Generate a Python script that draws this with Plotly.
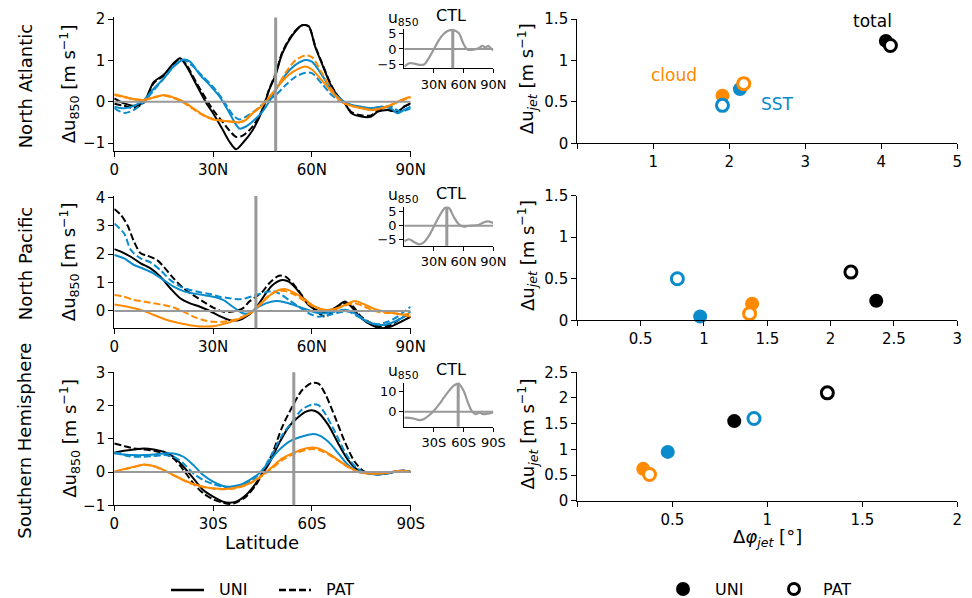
import plotly.graph_objects as go

W, H = 972, 598
FONT = "DejaVu Sans"
BLACK = "#000000"
BLUE = "#0a8bcb"
ORANGE = "#ff8a00"
GREY = "#999999"

REGIONS = ["North Atlantic", "North Pacific", "Southern Hemisphere"]
HEMI = ["N", "N", "S"]
JET_LAT = [49.0, 43.0, 54.5]          # latitude of the CTL jet

# ---------------- North Atlantic: zonal-mean u850 response ----------------
NA_TOT_UNI_LAT = [0, 3, 6, 9, 12, 15, 18, 20, 22, 25, 28, 30, 33, 35, 37, 39, 42, 45, 47, 49, 51, 54, 57, 59, 61, 63, 66, 68, 70, 72, 75, 78, 80, 83, 86, 88, 90]
NA_TOT_UNI = [0.08, -0.04, -0.1, 0.0, 0.48, 0.65, 0.93, 1.05, 0.85, 0.4, -0.04, -0.28, -0.69, -0.97, -1.15, -1.0, -0.69, -0.2, 0.28, 0.65, 1.17, 1.6, 1.85, 1.83, 1.33, 0.93, 0.36, 0.12, -0.04, -0.28, -0.36, -0.36, -0.24, -0.2, -0.24, -0.12, -0.04]
NA_TOT_PAT_LAT = NA_TOT_UNI_LAT
NA_TOT_PAT = [-0.05, -0.1, -0.15, -0.02, 0.45, 0.63, 0.9, 1.03, 0.88, 0.45, 0.05, -0.2, -0.5, -0.7, -0.85, -0.82, -0.6, -0.18, 0.3, 0.68, 1.2, 1.62, 1.85, 1.82, 1.35, 0.95, 0.38, 0.12, -0.04, -0.25, -0.33, -0.33, -0.22, -0.2, -0.25, -0.12, -0.05]
NA_SST_UNI_LAT = [0, 3, 6, 9, 12, 15, 18, 21, 23, 26, 29, 32, 35, 37, 38, 40, 42, 45, 47, 49, 52, 55, 58, 60, 63, 66, 69, 72, 75, 78, 81, 84, 86, 88, 90]
NA_SST_UNI = [-0.12, -0.16, -0.1, 0.04, 0.32, 0.56, 0.85, 1.02, 0.97, 0.65, 0.4, 0.12, -0.28, -0.56, -0.65, -0.6, -0.48, -0.24, 0.0, 0.28, 0.65, 0.89, 1.01, 0.97, 0.65, 0.28, 0.04, -0.08, -0.12, -0.16, -0.12, -0.16, -0.28, -0.2, -0.12]
NA_SST_PAT_LAT = [0, 3, 6, 9, 12, 15, 18, 21, 24, 27, 30, 33, 36, 38, 40, 43, 46, 49, 52, 55, 58, 60, 63, 66, 69, 72, 75, 78, 81, 84, 87, 90]
NA_SST_PAT = [-0.16, -0.27, -0.2, 0.0, 0.28, 0.56, 0.85, 1.01, 0.85, 0.6, 0.36, 0.04, -0.32, -0.43, -0.36, -0.2, 0.0, 0.16, 0.4, 0.6, 0.7, 0.69, 0.44, 0.16, 0.0, -0.08, -0.14, -0.16, -0.12, -0.12, -0.24, -0.16]
NA_CLD_UNI_LAT = [0, 3, 6, 9, 12, 15, 18, 21, 24, 27, 30, 33, 36, 38, 40, 42, 44, 46, 48, 50, 53, 56, 58, 60, 63, 66, 69, 72, 75, 78, 81, 84, 87, 90]
NA_CLD_UNI = [0.18, 0.12, 0.06, 0.04, 0.1, 0.16, 0.1, 0.0, -0.16, -0.32, -0.43, -0.46, -0.48, -0.5, -0.44, -0.28, -0.16, 0.0, 0.2, 0.4, 0.65, 0.8, 0.85, 0.78, 0.52, 0.24, 0.0, -0.1, -0.16, -0.2, -0.16, -0.08, 0.04, 0.12]
NA_CLD_PAT_LAT = [0, 3, 6, 9, 12, 15, 18, 21, 24, 27, 30, 33, 36, 38, 40, 42, 44, 46, 49, 52, 55, 58, 60, 63, 66, 69, 72, 75, 78, 81, 84, 87, 90]
NA_CLD_PAT = [0.16, 0.11, 0.06, 0.05, 0.11, 0.15, 0.09, -0.02, -0.18, -0.33, -0.42, -0.46, -0.49, -0.5, -0.42, -0.27, -0.14, 0.02, 0.3, 0.7, 1.0, 1.12, 1.08, 0.7, 0.3, 0.0, -0.1, -0.15, -0.2, -0.17, -0.08, 0.02, 0.1]

# ---------------- North Pacific ----------------
NP_TOT_UNI_LAT = [0, 2, 5, 8, 11, 14, 17, 20, 23, 26, 29, 32, 35, 38, 40, 42, 44, 46, 48, 51, 53, 56, 59, 62, 65, 68, 70, 72, 75, 78, 81, 84, 87, 90]
NP_TOT_UNI = [2.18, 2.09, 1.91, 1.68, 1.5, 1.21, 0.8, 0.45, 0.27, 0.15, 0.0, -0.18, -0.32, -0.32, -0.2, -0.02, 0.27, 0.62, 0.91, 1.09, 1.03, 0.68, 0.21, 0.0, -0.02, 0.19, 0.33, 0.15, -0.26, -0.49, -0.61, -0.55, -0.38, -0.2]
NP_TOT_PAT_LAT = [0, 2, 4, 6, 8, 10, 13, 15, 18, 21, 24, 27, 30, 33, 36, 39, 41, 43, 45, 47, 50, 52, 55, 58, 61, 64, 67, 70, 72, 75, 78, 81, 84, 87, 90]
NP_TOT_PAT = [3.59, 3.38, 3.02, 2.44, 2.03, 1.95, 1.79, 1.56, 1.15, 0.8, 0.56, 0.33, 0.12, -0.02, -0.02, 0.09, 0.33, 0.5, 0.68, 0.97, 1.24, 1.21, 0.86, 0.39, 0.04, -0.2, 0.04, 0.27, 0.21, -0.2, -0.43, -0.55, -0.49, -0.26, -0.08]
NP_SST_UNI_LAT = [0, 3, 6, 9, 12, 15, 18, 21, 24, 27, 30, 33, 36, 39, 41, 43, 46, 49, 52, 55, 58, 61, 64, 67, 70, 73, 76, 79, 82, 85, 88, 90]
NP_SST_UNI = [1.97, 1.85, 1.62, 1.48, 1.32, 1.09, 0.86, 0.7, 0.62, 0.56, 0.5, 0.39, 0.15, -0.08, -0.08, 0.09, 0.27, 0.35, 0.3, 0.19, 0.07, -0.05, -0.08, -0.02, 0.04, -0.08, -0.32, -0.47, -0.49, -0.38, -0.2, -0.02]
NP_SST_PAT_LAT = [0, 3, 5, 8, 11, 14, 17, 20, 23, 26, 29, 32, 35, 38, 40, 43, 46, 48, 50, 53, 56, 59, 62, 65, 68, 71, 74, 77, 80, 83, 86, 88, 90]
NP_SST_PAT = [3.08, 2.73, 2.15, 1.85, 1.71, 1.44, 1.09, 0.86, 0.74, 0.66, 0.6, 0.5, 0.45, 0.41, 0.45, 0.56, 0.66, 0.7, 0.62, 0.39, 0.15, -0.08, -0.2, -0.14, -0.06, -0.02, -0.2, -0.38, -0.47, -0.38, -0.2, -0.02, 0.15]
NP_CLD_UNI_LAT = [0, 4, 8, 12, 16, 20, 24, 28, 31, 34, 37, 40, 42, 44, 46, 48, 50, 52, 55, 58, 61, 64, 67, 70, 73, 76, 79, 82, 85, 88, 90]
NP_CLD_UNI = [0.23, 0.15, 0.04, -0.14, -0.32, -0.43, -0.52, -0.55, -0.52, -0.43, -0.32, -0.16, -0.02, 0.19, 0.42, 0.62, 0.74, 0.77, 0.62, 0.39, 0.15, 0.04, 0.07, 0.21, 0.35, 0.23, 0.07, -0.02, -0.08, -0.14, -0.2]
NP_CLD_PAT_LAT = [0, 3, 6, 9, 12, 15, 18, 21, 24, 27, 30, 33, 36, 39, 42, 44, 46, 48, 50, 52, 55, 58, 61, 64, 67, 70, 73, 76, 79, 82, 85, 88, 90]
NP_CLD_PAT = [0.56, 0.5, 0.39, 0.33, 0.27, 0.21, 0.12, -0.02, -0.2, -0.32, -0.38, -0.38, -0.32, -0.2, -0.02, 0.21, 0.45, 0.62, 0.7, 0.7, 0.56, 0.33, 0.12, 0.04, 0.07, 0.19, 0.27, 0.15, 0.0, -0.06, -0.08, -0.12, -0.08]

# ---------------- Southern Hemisphere ----------------
SH_TOT_UNI_LAT = [0, 3, 6, 9, 12, 15, 18, 21, 24, 27, 30, 33, 35, 37, 40, 43, 45, 47, 50, 53, 56, 58, 60, 62, 65, 68, 71, 74, 77, 80, 83, 86, 88, 90]
SH_TOT_UNI = [0.58, 0.64, 0.68, 0.71, 0.68, 0.61, 0.46, 0.16, -0.19, -0.54, -0.74, -0.89, -0.92, -0.89, -0.69, -0.34, -0.04, 0.26, 0.86, 1.36, 1.66, 1.81, 1.86, 1.78, 1.41, 0.86, 0.36, 0.06, -0.04, -0.07, -0.04, 0.03, 0.04, 0.0]
SH_TOT_PAT_LAT = [0, 3, 6, 9, 12, 15, 18, 21, 24, 27, 30, 33, 35, 37, 40, 43, 45, 48, 51, 54, 57, 60, 62, 64, 67, 70, 73, 76, 79, 82, 85, 88, 90]
SH_TOT_PAT = [0.86, 0.78, 0.71, 0.68, 0.64, 0.56, 0.41, 0.06, -0.34, -0.64, -0.82, -0.92, -0.96, -0.92, -0.74, -0.39, -0.04, 0.56, 1.36, 1.96, 2.46, 2.68, 2.66, 2.36, 1.66, 0.91, 0.31, 0.01, -0.04, -0.04, 0.01, 0.04, 0.0]
SH_SST_UNI_LAT = [0, 3, 6, 9, 12, 15, 18, 21, 24, 27, 30, 33, 35, 38, 41, 44, 47, 50, 53, 56, 60, 62, 65, 68, 71, 74, 77, 80, 83, 86, 88, 90]
SH_SST_UNI = [0.56, 0.53, 0.51, 0.51, 0.53, 0.56, 0.56, 0.46, 0.21, -0.09, -0.29, -0.42, -0.44, -0.39, -0.24, -0.04, 0.31, 0.66, 0.91, 1.04, 1.14, 1.11, 0.91, 0.56, 0.21, 0.01, -0.04, -0.07, -0.04, 0.03, 0.04, 0.0]
SH_SST_PAT_LAT = [0, 2, 4, 6, 9, 12, 15, 18, 21, 24, 27, 30, 33, 36, 39, 42, 45, 48, 51, 54, 57, 60, 62, 64, 67, 70, 73, 76, 79, 82, 85, 88, 90]
SH_SST_PAT = [0.58, 0.56, 0.48, 0.46, 0.46, 0.48, 0.51, 0.46, 0.26, -0.04, -0.24, -0.36, -0.44, -0.46, -0.39, -0.24, 0.06, 0.56, 1.11, 1.51, 1.88, 2.03, 2.01, 1.76, 1.21, 0.61, 0.18, -0.02, -0.06, -0.06, 0.0, 0.03, 0.0]
SH_CLD_UNI_LAT = [0, 3, 6, 9, 12, 15, 18, 21, 24, 27, 30, 33, 36, 39, 42, 45, 48, 51, 54, 57, 60, 62, 65, 68, 71, 74, 77, 80, 83, 86, 88, 90]
SH_CLD_UNI = [0.01, 0.09, 0.16, 0.23, 0.18, 0.06, -0.09, -0.24, -0.36, -0.44, -0.49, -0.51, -0.49, -0.42, -0.29, -0.09, 0.16, 0.41, 0.56, 0.68, 0.74, 0.71, 0.56, 0.36, 0.16, 0.01, -0.04, -0.04, -0.02, 0.03, 0.03, 0.0]
SH_CLD_PAT_LAT = SH_CLD_UNI_LAT
SH_CLD_PAT = [0.0, 0.08, 0.15, 0.22, 0.17, 0.05, -0.1, -0.25, -0.37, -0.45, -0.5, -0.52, -0.5, -0.43, -0.3, -0.11, 0.12, 0.36, 0.52, 0.63, 0.69, 0.67, 0.53, 0.34, 0.15, 0.01, -0.04, -0.04, -0.02, 0.03, 0.03, 0.0]

# ---------------- CTL climatology of u850 (insets) ----------------
NA_CTL_LAT = [0, 5, 10, 15, 20, 25, 30, 35, 40, 45, 49, 55, 60, 64, 68, 72, 76, 79, 82, 85, 88, 90]
NA_CTL = [-5.6, -4.5, -4.6, -5.0, -4.9, -2.8, 0.0, 2.8, 4.8, 5.8, 6.0, 5.0, 1.5, -0.2, -0.3, -0.1, 0.4, 1.0, 0.5, 1.0, 0.0, -0.4]
NP_CTL_LAT = [0, 5, 10, 15, 20, 25, 30, 35, 40, 43, 46, 50, 55, 60, 65, 70, 75, 80, 85, 90]
NP_CTL = [-5.5, -4.8, -5.8, -6.6, -5.8, -3.5, -0.2, 3.2, 6.0, 6.8, 6.0, 3.2, 0.6, -0.3, 0.0, 0.1, 0.3, 1.2, 1.6, 1.0]
SH_CTL_LAT = [0, 5, 10, 15, 20, 25, 30, 35, 40, 45, 50, 55, 60, 64, 68, 72, 76, 80, 84, 87, 90]
SH_CTL = [-3.0, -3.1, -3.5, -4.2, -3.6, -1.8, 0.5, 3.5, 7.0, 10.3, 13.0, 14.0, 10.5, 5.0, 0.5, -1.2, -0.5, -1.2, -1.0, -0.8, 0.0]

# ---------------- jet shift / jet speed change ----------------
COMPONENTS = ["total", "SST", "cloud"]
NA_DPHI_UNI = [4.06, 2.14, 1.91]
NA_DU_UNI = [1.236, 0.654, 0.573]
NA_DPHI_PAT = [4.12, 1.91, 2.19]
NA_DU_PAT = [1.18, 0.458, 0.72]
NP_DPHI_UNI = [2.36, 0.97, 1.38]
NP_DU_UNI = [0.235, 0.045, 0.2]
NP_DPHI_PAT = [2.16, 0.79, 1.36]
NP_DU_PAT = [0.58, 0.5, 0.08]
SH_DPHI_UNI = [0.826, 0.476, 0.347]
SH_DU_UNI = [1.55, 0.95, 0.62]
SH_DPHI_PAT = [1.316, 0.93, 0.38]
SH_DU_PAT = [2.1, 1.6, 0.51]

COMP_COLORS = [BLACK, BLUE, ORANGE]

PROFILES = [
    [(NA_TOT_UNI_LAT, NA_TOT_UNI, NA_TOT_PAT_LAT, NA_TOT_PAT),
     (NA_SST_UNI_LAT, NA_SST_UNI, NA_SST_PAT_LAT, NA_SST_PAT),
     (NA_CLD_UNI_LAT, NA_CLD_UNI, NA_CLD_PAT_LAT, NA_CLD_PAT)],
    [(NP_TOT_UNI_LAT, NP_TOT_UNI, NP_TOT_PAT_LAT, NP_TOT_PAT),
     (NP_SST_UNI_LAT, NP_SST_UNI, NP_SST_PAT_LAT, NP_SST_PAT),
     (NP_CLD_UNI_LAT, NP_CLD_UNI, NP_CLD_PAT_LAT, NP_CLD_PAT)],
    [(SH_TOT_UNI_LAT, SH_TOT_UNI, SH_TOT_PAT_LAT, SH_TOT_PAT),
     (SH_SST_UNI_LAT, SH_SST_UNI, SH_SST_PAT_LAT, SH_SST_PAT),
     (SH_CLD_UNI_LAT, SH_CLD_UNI, SH_CLD_PAT_LAT, SH_CLD_PAT)],
]
CTL = [(NA_CTL_LAT, NA_CTL), (NP_CTL_LAT, NP_CTL), (SH_CTL_LAT, SH_CTL)]
JETS = [(NA_DPHI_UNI, NA_DU_UNI, NA_DPHI_PAT, NA_DU_PAT),
        (NP_DPHI_UNI, NP_DU_UNI, NP_DPHI_PAT, NP_DU_PAT),
        (SH_DPHI_UNI, SH_DU_UNI, SH_DPHI_PAT, SH_DU_PAT)]

# ---------------- geometry (pixels) ----------------
MAIN_X = (114.3, 410.7)
INSET_X = (404.3, 493.3)
JET_X = (577.3, 957.3)
MAIN_Y = [(17.4, 151.3), (196.0, 328.3), (372.3, 505.3)]
INSET_Y = [(29.0, 68.3), (206.7, 245.7), (382.7, 426.7)]
JET_Y = [(19.0, 143.3), (195.7, 320.3), (372.3, 500.7)]

MAIN_RANGE = [(-1.2, 2.04), (-0.61, 4.05), (-1.0, 3.0)]
MAIN_YTICKS = [[-1, 0, 1, 2], [0, 1, 2, 3, 4], [-1, 0, 1, 2, 3]]
INSET_RANGE = [(-6.1, 6.3), (-7.1, 6.8), (-7.5, 14.5)]
INSET_YTICKS = [[-5, 0, 5], [-5, 0, 5], [0, 10]]
JET_XRANGE = [(0, 5), (0, 3), (0, 2)]
JET_XTICKS = [[0, 1, 2, 3, 4, 5], [0, 0.5, 1, 1.5, 2, 2.5, 3], [0, 0.5, 1, 1.5, 2]]
JET_YRANGE = [(0, 1.5), (0, 1.5), (0, 2.5)]
JET_YTICKS = [[0, 0.5, 1, 1.5], [0, 0.5, 1, 1.5], [0, 0.5, 1, 1.5, 2, 2.5]]


def px(x):
    return x / W


def py(y):
    return 1 - y / H


def xdom(a):
    return [px(a[0]), px(a[1])]


def ydom(a):
    return [py(a[1]), py(a[0])]


def fmt(v):
    return f"{v:g}".replace("-", "\u2212")


def ax_name(kind, n):
    return f"{kind}axis" if n == 1 else f"{kind}axis{n}"


def ref(kind, n):
    return kind if n == 1 else f"{kind}{n}"


fig = go.Figure()
layout = {}
shapes = []
annotations = []

base_axis = dict(showgrid=False, zeroline=False, showline=True, linecolor=BLACK,
                 linewidth=1.2, ticks="outside", tickcolor=BLACK, tickwidth=1.2,
                 automargin=False, fixedrange=True,
                 tickfont=dict(family=FONT, size=15, color=BLACK))

for r in range(3):
    nm, ni, nj = 3 * r + 1, 3 * r + 2, 3 * r + 3
    h = HEMI[r]

    # --- main latitude profile panel ---
    layout[ax_name("x", nm)] = dict(base_axis, domain=xdom(MAIN_X), range=[0, 90],
                                   anchor=ref("y", nm), ticklen=5,
                                   tickvals=[0, 30, 60, 90],
                                   ticktext=["0", f"30{h}", f"60{h}", f"90{h}"])
    yt = MAIN_YTICKS[r]
    layout[ax_name("y", nm)] = dict(base_axis, domain=ydom(MAIN_Y[r]), range=list(MAIN_RANGE[r]),
                                   anchor=ref("x", nm), ticklen=5,
                                   tickvals=yt, ticktext=[fmt(v) for v in yt])
    for c, (ul, uv, pl, pv) in enumerate(PROFILES[r]):
        for lat, val, dash in ((ul, uv, "solid"), (pl, pv, "7px,3px")):
            fig.add_trace(go.Scatter(
                x=lat, y=val, mode="lines", showlegend=False, hoverinfo="skip",
                line=dict(color=COMP_COLORS[c], width=2, dash=dash, shape="spline", smoothing=0.8),
                xaxis=ref("x", nm), yaxis=ref("y", nm)))
    shapes.append(dict(type="line", xref=ref("x", nm), yref=ref("y", nm), x0=0, x1=90, y0=0, y1=0,
                       line=dict(color=GREY, width=2), layer="above"))
    shapes.append(dict(type="line", xref=ref("x", nm), yref=f"{ref('y', nm)} domain",
                       x0=JET_LAT[r], x1=JET_LAT[r], y0=0, y1=1,
                       line=dict(color=GREY, width=3), layer="above"))

    # --- CTL inset ---
    layout[ax_name("x", ni)] = dict(base_axis, domain=xdom(INSET_X), range=[0, 90],
                                   anchor=ref("y", ni), ticklen=4, linewidth=1.1,
                                   tickfont=dict(family=FONT, size=13, color=BLACK),
                                   tickvals=[30, 60, 90],
                                   ticktext=[f"30{h}", f"60{h}", f"90{h}"])
    it = INSET_YTICKS[r]
    layout[ax_name("y", ni)] = dict(base_axis, domain=ydom(INSET_Y[r]), range=list(INSET_RANGE[r]),
                                   anchor=ref("x", ni), ticklen=4, linewidth=1.1,
                                   tickfont=dict(family=FONT, size=13, color=BLACK),
                                   tickvals=it, ticktext=[fmt(v) for v in it])
    fig.add_trace(go.Scatter(
        x=CTL[r][0], y=CTL[r][1], mode="lines", showlegend=False, hoverinfo="skip",
        line=dict(color=GREY, width=2.2, shape="spline", smoothing=0.8),
        xaxis=ref("x", ni), yaxis=ref("y", ni)))
    shapes.append(dict(type="line", xref=ref("x", ni), yref=ref("y", ni), x0=0, x1=90, y0=0, y1=0,
                       line=dict(color=GREY, width=2), layer="above"))
    shapes.append(dict(type="line", xref=ref("x", ni), yref=f"{ref('y', ni)} domain",
                       x0=JET_LAT[r], x1=JET_LAT[r], y0=0, y1=1,
                       line=dict(color=GREY, width=3), layer="above"))

    # --- jet shift vs jet speed ---
    xt = JET_XTICKS[r]
    layout[ax_name("x", nj)] = dict(base_axis, domain=xdom(JET_X), range=list(JET_XRANGE[r]),
                                   anchor=ref("y", nj), ticklen=5,
                                   tickvals=xt, ticktext=[""] + [fmt(v) for v in xt[1:]])
    jt = JET_YTICKS[r]
    layout[ax_name("y", nj)] = dict(base_axis, domain=ydom(JET_Y[r]), range=list(JET_YRANGE[r]),
                                   anchor=ref("x", nj), ticklen=5,
                                   tickvals=jt, ticktext=[fmt(v) for v in jt])
    dphi_u, du_u, dphi_p, du_p = JETS[r]
    fig.add_trace(go.Scatter(
        x=dphi_u, y=du_u, mode="markers", showlegend=False, hoverinfo="skip", cliponaxis=False,
        marker=dict(color=COMP_COLORS, size=14, line=dict(width=0)),
        xaxis=ref("x", nj), yaxis=ref("y", nj)))
    fig.add_trace(go.Scatter(
        x=dphi_p, y=du_p, mode="markers", showlegend=False, hoverinfo="skip", cliponaxis=False,
        marker=dict(color="white", size=12, line=dict(color=COMP_COLORS, width=3)),
        xaxis=ref("x", nj), yaxis=ref("y", nj)))

    # --- labels ---
    my = MAIN_Y[r]
    annotations.append(dict(text=REGIONS[r], x=px(25), y=py((my[0] + my[1]) / 2 + 2),
                            textangle=-90, font=dict(size=18)))
    annotations.append(dict(text="\u0394u<sub>850</sub> [m s<sup>\u22121</sup>]",
                            x=px(69), y=py((my[0] + my[1]) / 2), textangle=-90, font=dict(size=18)))
    jy = JET_Y[r]
    annotations.append(dict(text="\u0394u<sub><i>jet</i></sub> [m s<sup>\u22121</sup>]",
                            x=px(527), y=py((jy[0] + jy[1]) / 2 - 2), textangle=-90, font=dict(size=18)))
    iy = INSET_Y[r]
    annotations.append(dict(text="CTL", x=px(451), y=py(iy[0] - 13), font=dict(size=16)))
    annotations.append(dict(text="u<sub>850</sub>", x=px(403), y=py(iy[0] - 10.5),
                            font=dict(size=15.5)))

annotations.append(dict(text="Latitude", x=px(262), y=py(542), font=dict(size=18)))
annotations.append(dict(text="\u0394<i>\u03c6</i><sub><i>jet</i></sub> [\u00b0]", x=px(767), y=py(538),
                        font=dict(size=18)))

# component names in the North Atlantic jet panel
annotations.append(dict(text="total", xref="x3", yref="y3", x=3.89, y=1.48, font=dict(size=17, color=BLACK)))
annotations.append(dict(text="cloud", xref="x3", yref="y3", x=1.27, y=0.82, font=dict(size=17, color=ORANGE)))
annotations.append(dict(text="SST", xref="x3", yref="y3", x=2.63, y=0.47, font=dict(size=17, color=BLUE)))

# keys along the bottom: line style (UNI/PAT) for the profiles, marker fill for the jet panels
KEY_Y = 589
shapes.append(dict(type="line", xref="paper", yref="paper", x0=px(171), x1=px(204),
                   y0=py(KEY_Y + 1), y1=py(KEY_Y + 1), line=dict(color=BLACK, width=2.5)))
shapes.append(dict(type="line", xref="paper", yref="paper", x0=px(279), x1=px(311),
                   y0=py(KEY_Y + 1), y1=py(KEY_Y + 1), line=dict(color=BLACK, width=2.5, dash="7px,3px")))
shapes.append(dict(type="circle", xref="paper", yref="paper", x0=px(676), x1=px(690),
                   y0=py(KEY_Y + 7), y1=py(KEY_Y - 7), fillcolor=BLACK, line=dict(width=0)))
shapes.append(dict(type="circle", xref="paper", yref="paper", x0=px(788.5), x1=px(799.5),
                   y0=py(KEY_Y + 5.5), y1=py(KEY_Y - 5.5), fillcolor="white",
                   line=dict(color=BLACK, width=3)))
for label, xpos in (("UNI", 217), ("PAT", 324), ("UNI", 713), ("PAT", 821)):
    annotations.append(dict(text=label, x=px(xpos), y=py(KEY_Y), xanchor="left", font=dict(size=16)))

for a in annotations:
    a.setdefault("xref", "paper")
    a.setdefault("yref", "paper")
    a.setdefault("showarrow", False)
    a.setdefault("xanchor", "center")
    a.setdefault("yanchor", "middle")
    a["font"] = dict(dict(family=FONT, color=BLACK), **a["font"])

fig.update_layout(
    width=W, height=H, margin=dict(l=0, r=0, t=0, b=0, autoexpand=False),
    paper_bgcolor="white", plot_bgcolor="rgba(0,0,0,0)",
    font=dict(family=FONT, size=15, color=BLACK),
    showlegend=False,
    shapes=shapes, annotations=annotations,
    **layout,
)

fig.write_html("out.html")
